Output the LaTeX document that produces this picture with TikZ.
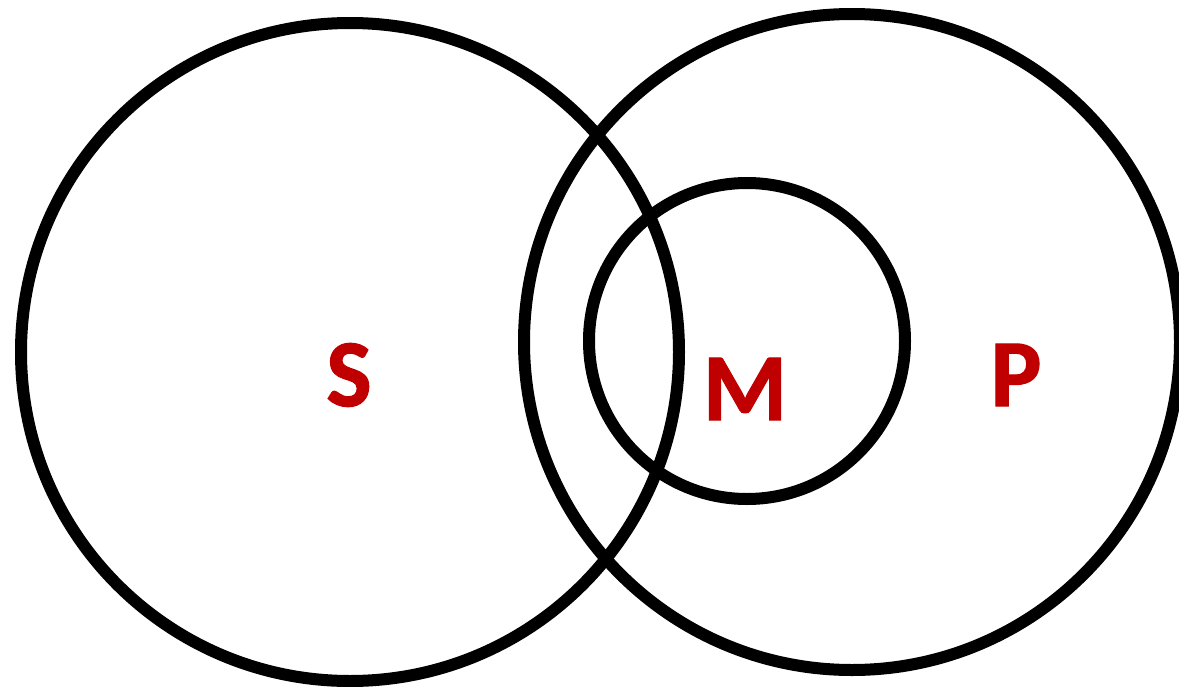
\documentclass[tikz,border=0pt]{standalone}
\usepackage{fontspec}
\newfontfamily\setfont{Carlito}[UprightFont=Carlito Bold,UprightFeatures={FakeBold=1.2}]
\usetikzlibrary{positioning}
\definecolor{ink}{HTML}{000000}
\definecolor{term}{HTML}{C00000}
\tikzset{
 ring/.style={draw=ink,circle,line width=6pt,inner sep=0pt,fill=none},
 letter/.style={font=\setfont\fontsize{48}{48}\selectfont,text=term,inner sep=0pt}
}
\begin{document}
\begin{tikzpicture}[x=0.5pt,y=-0.5pt]
  \useasboundingbox (0,0) rectangle (1179,686);
  \begin{scope}
    \clip (0,0) rectangle (1179,686);
    \node[ring,minimum size=329pt] (small) at (350,352) {};
    \node[ring,minimum size=328pt] (pred) at (852,342) {};
    \node[ring,minimum size=158pt] (mid) at (747,341) {};
  \end{scope}

  \node[letter] (s) at (349,375) {S};
  \node[letter] (m) at (745,389) {M};
  \node[letter] (p) at (1016,375) {P};
\end{tikzpicture}
\end{document}
